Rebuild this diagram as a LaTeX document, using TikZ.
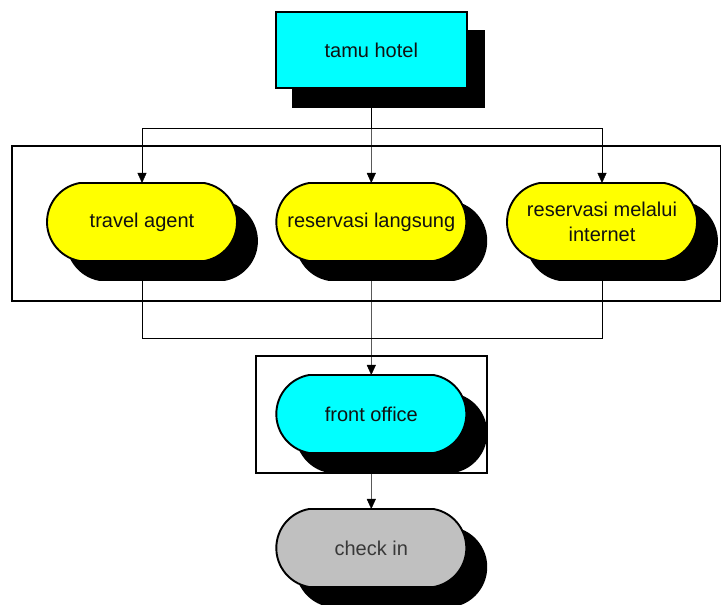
\documentclass[tikz,border=0pt]{standalone}
\usepackage{fontspec}
\setmainfont{Liberation Sans}
\usetikzlibrary{arrows.meta,shadows,backgrounds,shapes.misc}
\definecolor{aqua}{HTML}{00FFFF}
\definecolor{lemon}{HTML}{FFFF00}
\definecolor{silver}{HTML}{C0C0C0}
\definecolor{ink}{HTML}{111111}
\begin{document}
\begin{tikzpicture}[x=1pt,y=-1pt,
  line width=1.9pt,
  every node/.style={font=\fontsize{20}{25}\selectfont, text=ink, outer sep=0pt, inner sep=2pt, align=center},
  blockshadow/.style={copy shadow={shadow xshift=#1, shadow yshift=-19pt, fill=black, draw=black}},
  pill/.style={draw=black, rounded rectangle, rounded rectangle arc length=160, minimum width=194pt, minimum height=78pt, blockshadow=20pt},
  topbox/.style={draw=black, rectangle, minimum width=191pt, minimum height=76pt, blockshadow=17pt},
  frame/.style={draw=black, line width=1.9pt},
  arr/.style={-{Triangle[length=10pt,width=9pt]}}
]
\useasboundingbox (0,0) rectangle (721,605);

% grouping frames
\draw[frame] (12,146) rectangle (721,301);
\draw[frame] (256,356) rectangle (487,473);

% blocks
\node[topbox, fill=aqua] (tamu) at (371.3,50) {tamu hotel};
\node[pill, fill=lemon] (ta) at (142,222) {travel agent};
\node[pill, fill=lemon] (rl) at (371.3,222) {reservasi langsung};
\node[pill, fill=lemon] (inet) at (602,222) {reservasi melalui\\internet};
\node[pill, fill=aqua] (fo) at (371.3,414) {front office};
\node[pill, fill=silver, text=black!78] (ci) at (371.3,548) {check in};

% junction points
\coordinate (split) at (371.3,128);
\coordinate (merge) at (371.3,338);

% connectors, kept behind the blocks
\begin{scope}[on background layer]
  \draw (tamu) -- (split);
  \draw[arr] (split) -| (ta);
  \draw[arr] (split) -- (rl);
  \draw[arr] (split) -| (inet);
  \draw (ta) |- (merge);
  \draw (inet) |- (merge);
  \draw[arr] (rl) -- (fo);
  \draw[arr] (fo) -- (ci);
\end{scope}
\end{tikzpicture}
\end{document}
